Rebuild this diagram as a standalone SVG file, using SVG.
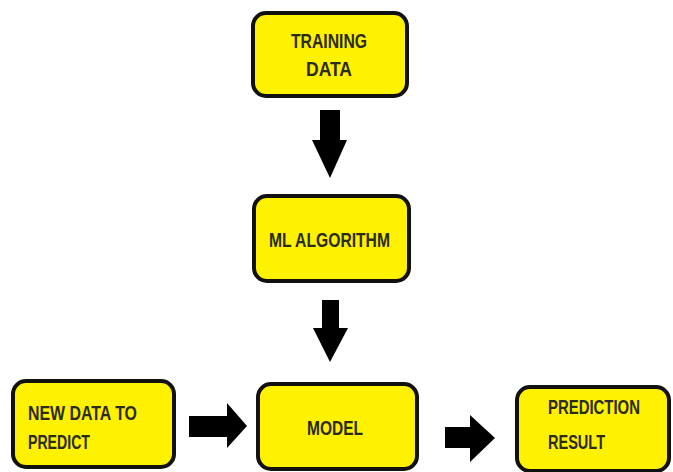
<svg xmlns="http://www.w3.org/2000/svg" width="673" height="472" viewBox="0 0 673 472">
  <style>
    .box { fill: #fff200; stroke: #111; stroke-width: 4; }
    .lbl { font-family: "Liberation Sans", Arial, sans-serif; font-weight: bold; font-size: 20px; fill: #2b2b1e; }
    .arrow { fill: #000; }
  </style>
  <rect width="673" height="472" fill="#fff"/>

  <g id="connectors">
    <!-- training data -> ml algorithm -->
    <polygon class="arrow" points="320,110 340,110 340,140 347,140 330,178 312,140 320,140"/>
    <!-- ml algorithm -> model -->
    <polygon class="arrow" points="322,300 339,300 339,328 348,328 330,362 313,328 322,328"/>
    <!-- new data -> model -->
    <polygon class="arrow" points="189,416 227,416 227,403 247,426 227,448 227,437 189,437"/>
    <!-- model -> prediction result -->
    <polygon class="arrow" points="445,427 470,427 470,415 495,438 470,462 470,448 445,448"/>
  </g>

  <g id="training-data">
    <rect class="box" x="253" y="13" width="154" height="83" rx="13"/>
    <text class="lbl" x="291" y="48" textLength="76" lengthAdjust="spacingAndGlyphs">TRAINING</text>
    <text class="lbl" x="306" y="76" textLength="46" lengthAdjust="spacingAndGlyphs">DATA</text>
  </g>

  <g id="ml-algorithm">
    <rect class="box" x="254" y="196" width="155" height="85" rx="13"/>
    <text class="lbl" x="269" y="247" textLength="121" lengthAdjust="spacingAndGlyphs">ML ALGORITHM</text>
  </g>

  <g id="new-data">
    <rect class="box" x="13" y="381" width="161" height="86" rx="13"/>
    <text class="lbl" x="28" y="420" textLength="109" lengthAdjust="spacingAndGlyphs">NEW DATA TO</text>
    <text class="lbl" x="28" y="449" textLength="62" lengthAdjust="spacingAndGlyphs">PREDICT</text>
  </g>

  <g id="model">
    <rect class="box" x="258" y="384" width="159" height="85" rx="13"/>
    <text class="lbl" x="307" y="435" textLength="56" lengthAdjust="spacingAndGlyphs">MODEL</text>
  </g>

  <g id="prediction-result">
    <rect class="box" x="517" y="387" width="152" height="84" rx="13"/>
    <text class="lbl" x="548" y="414" textLength="92" lengthAdjust="spacingAndGlyphs">PREDICTION</text>
    <text class="lbl" x="548" y="449" textLength="57" lengthAdjust="spacingAndGlyphs">RESULT</text>
  </g>
</svg>
